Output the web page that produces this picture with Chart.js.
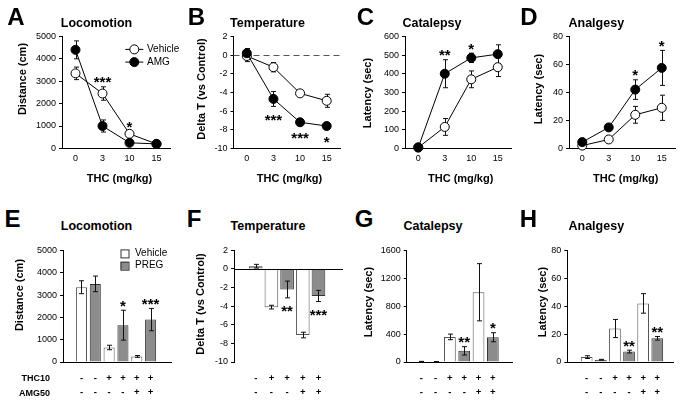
<!DOCTYPE html>
<html>
<head>
<meta charset="utf-8">
<script src="https://cdn.jsdelivr.net/npm/chart.js@4.4.0/dist/chart.umd.min.js"></script>
<style>
  body { margin: 0; background: #fff; }
  #fig { position: relative; width: 685px; height: 402px; overflow: hidden; font-family: 'Liberation Sans', Arial, sans-serif; color: #000; }
  #fig canvas { position: absolute; }
  .t { position: absolute; white-space: nowrap; line-height: 1; transform: translate(-50%, -50%); }
  .letter { font-size: 24px; font-weight: bold; }
  .title { font-size: 12.5px; font-weight: bold; }
  .xt { font-size: 11px; font-weight: bold; }
  .yt { font-size: 11px; font-weight: bold; transform: translate(-50%, -50%) rotate(-90deg); }
  .row { font-size: 9px; font-weight: bold; transform: translate(-100%, -50%); }
</style>
</head>
<body>
<div id="fig"></div>
<script>
// ---- top row: THC dose response ----
const doses = ['0', '3', '10', '15'];
const seriesNames = ['Vehicle', 'AMG'];

const locoVeh = [3350, 2450, 650, 200];
const locoVehErr = [280, 300, 100, 80];
const locoAmg = [4400, 1000, 250, 200];
const locoAmgErr = [400, 270, 60, 50];
const locoStars = ['', '***', '*', ''];

const tempVeh = [-0.1, -1.3, -4.1, -4.9];
const tempVehErr = [0.6, 0.5, 0.2, 0.7];
const tempAmg = [0.2, -4.7, -7.2, -7.6];
const tempAmgErr = [0.5, 0.8, 0.2, 0.3];
const tempStars = ['', '***', '***', '*'];

const catVeh = [5, 115, 370, 435];
const catVehErr = [3, 45, 45, 50];
const catAmg = [5, 400, 485, 505];
const catAmgErr = [3, 75, 25, 50];
const catStars = ['', '**', '*', ''];

const anaVeh = [2, 6.4, 24, 29];
const anaVehErr = [0.8, 1, 6, 9];
const anaAmg = [4.5, 15, 42, 57.5];
const anaAmgErr = [1, 1.5, 7, 12.5];
const anaStars = ['', '', '*', '*'];

// ---- bottom row: PREG bars ----
const barNames = ['Vehicle', 'PREG'];
const thc10 = ['-', '-', '+', '+', '+', '+'];
const amg50 = ['-', '-', '-', '-', '+', '+'];
const groups = ['Vehicle', 'PREG', 'Vehicle', 'PREG', 'Vehicle', 'PREG'];

const locoBar = [3350, 3500, 650, 1650, 250, 1900];
const locoBarErr = [290, 350, 100, 670, 40, 500];
const locoBarStars = ['', '', '', '*', '', '***'];

// temperature is relative to control, so no vehicle-only column
const tempThc10 = ['-', '+', '+', '+', '+'];
const tempAmg50 = ['-', '-', '-', '+', '+'];
const tempGroups = ['PREG', 'Vehicle', 'PREG', 'Vehicle', 'PREG'];
const tempBar = [0.3, -4.1, -2.2, -7.1, -2.9];
const tempBarErr = [0.2, 0.2, 0.9, 0.3, 0.6];
const tempBarStars = ['', '', '**', '', '***'];

const catBar = [6, 4, 360, 160, 1000, 355];
const catBarErr = [3, 2, 40, 60, 410, 65];
const catBarStars = ['', '', '', '**', '', '*'];

const anaBar = [3.5, 1.6, 24, 7.5, 42, 17];
const anaBarErr = [1, 0.3, 6.5, 1, 7, 1.3];
const anaBarStars = ['', '', '', '**', '', '**'];

// y ranges [min, max, step]
const locoRange = [0, 5000, 1000];
const tempRange = [-10, 2, 2];
const catRange = [0, 600, 100];
const anaRange = [0, 80, 20];
const catBarRange = [0, 1600, 400];

const FONT = "'Liberation Sans', Arial, sans-serif";
const GREY = '#8c8c8c';
Chart.defaults.font.family = FONT;
Chart.defaults.color = '#000';
Chart.defaults.animation = false;

const fig = document.getElementById('fig');
const YW = 40, XH = 36, PAD = 8;

function place(area, extraRight) {
  const left = Math.floor(area.l - YW - PAD);
  const top = Math.floor(area.t - PAD);
  const w = Math.ceil(area.r + PAD + (extraRight || 0) - left);
  const h = Math.ceil(area.b + XH + PAD - top);
  const c = document.createElement('canvas');
  c.width = w; c.height = h;
  c.style.left = left + 'px'; c.style.top = top + 'px';
  c.style.width = w + 'px'; c.style.height = h + 'px';
  fig.appendChild(c);
  const padding = {
    left: area.l - YW - left,
    top: area.t - top,
    right: left + w - area.r,
    bottom: top + h - XH - area.b
  };
  return { c, padding };
}

function val(d) { return typeof d === 'object' ? d.y : d; }

function drawErrs(chart, o) {
  const ctx = chart.ctx, ys = chart.scales.y;
  ctx.save();
  ctx.strokeStyle = '#111';
  ctx.lineWidth = 1;
  chart.data.datasets.forEach((ds, di) => {
    chart.getDatasetMeta(di).data.forEach((el, i) => {
      const v = val(ds.data[i]), e = o.errs[di][i];
      const x = Math.round(el.x) + 0.5;
      const y1 = ys.getPixelForValue(v + e), y2 = ys.getPixelForValue(v - e);
      ctx.beginPath();
      ctx.moveTo(x, y1); ctx.lineTo(x, y2);
      ctx.moveTo(x - 2.5, y1); ctx.lineTo(x + 2.5, y1);
      ctx.moveTo(x - 2.5, y2); ctx.lineTo(x + 2.5, y2);
      ctx.stroke();
    });
  });
  ctx.restore();
}

function drawStars(chart, o) {
  const ctx = chart.ctx, ys = chart.scales.y;
  const meta = chart.getDatasetMeta(0);
  ctx.save();
  ctx.font = 'bold 15px ' + FONT;
  ctx.textAlign = 'center';
  ctx.fillStyle = '#000';
  o.stars.forEach((s, i) => {
    if (!s) return;
    const ends = chart.data.datasets.map((ds, di) => val(ds.data[i]) + (o.dir === 'up' ? 1 : -1) * o.errs[di][i]);
    const edge = o.dir === 'up' ? Math.max(...ends) : Math.min(...ends);
    const py = ys.getPixelForValue(edge);
    const cy = o.dir === 'up' ? py - 8 : py + 10;
    ctx.fillText(s, meta.data[i].x, cy + 8.6);
  });
  ctx.restore();
}

function drawZero(chart, z) {
  const ctx = chart.ctx, a = chart.chartArea;
  const y0 = Math.round(chart.scales.y.getPixelForValue(0)) + 0.5;
  ctx.save();
  ctx.strokeStyle = z.color || '#000';
  ctx.lineWidth = 1;
  ctx.setLineDash(z.dash || []);
  ctx.beginPath();
  ctx.moveTo(a.left, y0); ctx.lineTo(a.right, y0);
  ctx.stroke();
  ctx.restore();
}

function drawLegend(chart, L) {
  const ctx = chart.ctx, a = chart.chartArea;
  ctx.save();
  ctx.font = '10px ' + FONT;
  ctx.textBaseline = 'middle';
  L.items.forEach((it, k) => {
    const cx = a.left + L.x, cy = a.top + L.y + k * L.gap;
    ctx.strokeStyle = '#000';
    ctx.lineWidth = 1;
    if (L.kind === 'line') {
      ctx.beginPath();
      ctx.moveTo(cx - 9, cy); ctx.lineTo(cx + 9, cy);
      ctx.stroke();
      ctx.beginPath();
      ctx.arc(cx, cy, 4.5, 0, Math.PI * 2);
      ctx.fillStyle = it.fill; ctx.fill(); ctx.stroke();
    } else {
      ctx.fillStyle = it.fill;
      ctx.fillRect(cx - 4, cy - 4, 8, 8);
      ctx.strokeStyle = '#333';
      ctx.strokeRect(cx - 4 + 0.5, cy - 4 + 0.5, 8, 8);
    }
    ctx.fillStyle = '#000';
    ctx.fillText(it.text, a.left + L.tx, cy);
  });
  ctx.restore();
}

const marks = {
  id: 'marks',
  beforeDatasetsDraw(chart, args, o) {
    if (o.zero && !o.zero.front) drawZero(chart, o.zero);
    if (o.errs && o.behind) drawErrs(chart, o);
  },
  afterDatasetsDraw(chart, args, o) {
    if (o.zero && o.zero.front) drawZero(chart, o.zero);
    if (o.errs && !o.behind) drawErrs(chart, o);
    if (o.stars) drawStars(chart, o);
  },
  afterDraw(chart, args, o) {
    if (o.legend) drawLegend(chart, o.legend);
  }
};
Chart.register(marks);

function yAxis(range) {
  return {
    min: range[0], max: range[1],
    afterFit: s => { s.width = YW; },
    ticks: { stepSize: range[2], padding: 3, font: { size: 9 }, color: '#000', callback: v => String(v) },
    grid: { drawOnChartArea: false, tickLength: 3, color: '#000' },
    border: { color: '#000' }
  };
}

function lineChart(area, range, veh, vehErr, amg, amgErr, stars, dir, extra) {
  const { c, padding } = place(area, extra.right);
  const common = { borderColor: '#000', borderWidth: 1, pointRadius: 4.5, pointBorderWidth: 1, pointBorderColor: '#000', tension: 0, clip: false };
  return new Chart(c, {
    type: 'line',
    data: {
      labels: doses,
      datasets: [
        { ...common, label: seriesNames[0], data: veh, order: 1, pointBackgroundColor: '#fff' },
        { ...common, label: seriesNames[1], data: amg, order: 0, pointBackgroundColor: '#000' }
      ]
    },
    options: {
      responsive: false,
      layout: { padding },
      scales: {
        x: {
          type: 'category', offset: true,
          afterFit: s => { s.height = XH; },
          grid: { display: false, drawTicks: false },
          border: { color: '#000' },
          ticks: { padding: 4.5, font: { size: 9 }, color: '#000' }
        },
        y: yAxis(range)
      },
      plugins: {
        legend: { display: false }, tooltip: { enabled: false },
        marks: { errs: [vehErr, amgErr], behind: true, stars, dir, zero: extra.zero, legend: extra.legend }
      }
    }
  });
}

function barChart(area, range, xr, rowA, rowB, grp, vals, errs, stars, dir, extra) {
  const { c, padding } = place(area, 0);
  const fill = grp.map(g => g === 'PREG' ? GREY : '#fff');
  const edge = grp.map(g => g === 'PREG' ? '#333' : '#555');
  return new Chart(c, {
    type: 'bar',
    data: {
      datasets: [{
        data: vals.map((v, i) => ({ x: i, y: v })),
        backgroundColor: fill, borderColor: edge, borderWidth: 1,
        barPercentage: extra.bp, categoryPercentage: 1
      }]
    },
    options: {
      responsive: false,
      layout: { padding },
      scales: {
        x: {
          type: 'linear', min: xr[0], max: xr[1],
          afterFit: s => { s.height = XH; },
          afterBuildTicks: s => { s.ticks = rowA.map((_, i) => ({ value: i })); },
          grid: { display: false, drawTicks: false },
          border: { display: !extra.zero, color: '#000' },
          ticks: {
            autoSkip: false, maxRotation: 0, padding: 9.5, color: '#000',
            font: { size: 9.5, weight: 'bold', lineHeight: 14 / 9.5 },
            callback: (v, i) => [rowA[i], rowB[i]]
          }
        },
        y: yAxis(range)
      },
      plugins: {
        legend: { display: false }, tooltip: { enabled: false },
        marks: { errs: [errs], behind: false, stars, dir, zero: extra.zero, legend: extra.legend }
      }
    }
  });
}

// top row
lineChart({ l: 62, r: 170, t: 36, b: 148.4 }, locoRange, locoVeh, locoVehErr, locoAmg, locoAmgErr, locoStars, 'up', {
  right: 12,
  legend: { kind: 'line', x: 72.3, y: 13, gap: 12.7, tx: 85, items: seriesNames.map((n, k) => ({ text: n, fill: k ? '#000' : '#fff' })) }
});
lineChart({ l: 233.5, r: 340, t: 36, b: 148.4 }, tempRange, tempVeh, tempVehErr, tempAmg, tempAmgErr, tempStars, 'down', {
  zero: { dash: [6, 4], color: '#555' }
});
lineChart({ l: 405, r: 511, t: 36, b: 148.4 }, catRange, catVeh, catVehErr, catAmg, catAmgErr, catStars, 'up', {});
lineChart({ l: 569, r: 675, t: 36, b: 148.4 }, anaRange, anaVeh, anaVehErr, anaAmg, anaAmgErr, anaStars, 'up', {});

// bottom row
barChart({ l: 63, r: 171.7, t: 250, b: 362 }, locoRange, [-0.68, 5.87], thc10, amg50, groups, locoBar, locoBarErr, locoBarStars, 'up', {
  bp: 0.8,
  legend: { kind: 'box', x: 61.5, y: 3, gap: 12.3, tx: 72, items: barNames.map((n, k) => ({ text: n, fill: k ? GREY : '#fff' })) }
});
barChart({ l: 234, r: 343, t: 250, b: 362 }, tempRange, [-0.69, 4.87], tempThc10, tempAmg50, tempGroups, tempBar, tempBarErr, tempBarStars, 'down', {
  bp: 0.87, zero: { front: true }
});
barChart({ l: 406.7, r: 512.7, t: 250, b: 362 }, catBarRange, [-0.4, 5.77], thc10, amg50, groups, catBar, catBarErr, catBarStars, 'up', { bp: 0.82 });
barChart({ l: 567.3, r: 673, t: 250, b: 362 }, anaRange, [-0.75, 5.49], thc10, amg50, groups, anaBar, anaBarErr, anaBarStars, 'up', { bp: 0.83 });

// panel text
const texts = [
  ['A', 'letter', 16, 16.5], ['B', 'letter', 196.5, 16.5], ['C', 'letter', 365.5, 16.5], ['D', 'letter', 529, 16.5],
  ['E', 'letter', 12.5, 218.5], ['F', 'letter', 194, 218.5], ['G', 'letter', 364, 218.5], ['H', 'letter', 528.5, 218.5],
  ['Locomotion', 'title', 96.5, 22.7], ['Temperature', 'title', 267.5, 22.7], ['Catalepsy', 'title', 432, 22.7], ['Analgesy', 'title', 596.3, 22.7],
  ['Locomotion', 'title', 96.5, 226], ['Temperature', 'title', 268, 226], ['Catalepsy', 'title', 433, 226], ['Analgesy', 'title', 596.3, 226],
  ['THC (mg/kg)', 'xt', 119.5, 178], ['THC (mg/kg)', 'xt', 289.5, 178], ['THC (mg/kg)', 'xt', 460.7, 178], ['THC (mg/kg)', 'xt', 625.8, 178],
  ['Distance (cm)', 'yt', 22, 78.5], ['Delta T (vs Control)', 'yt', 200.7, 89], ['Latency (sec)', 'yt', 367.3, 92.5], ['Latency (sec)', 'yt', 538.3, 89],
  ['Distance (cm)', 'yt', 19.3, 294.5], ['Delta T (vs Control)', 'yt', 200, 304], ['Latency (sec)', 'yt', 368.3, 301.7], ['Latency (sec)', 'yt', 541.7, 301.5],
  ['THC10', 'row', 50, 378], ['AMG50', 'row', 50, 392.5]
];
texts.forEach(([s, cls, x, y]) => {
  const d = document.createElement('div');
  d.className = 't ' + cls;
  d.textContent = s;
  d.style.left = x + 'px';
  d.style.top = y + 'px';
  fig.appendChild(d);
});
</script>
</body>
</html>
